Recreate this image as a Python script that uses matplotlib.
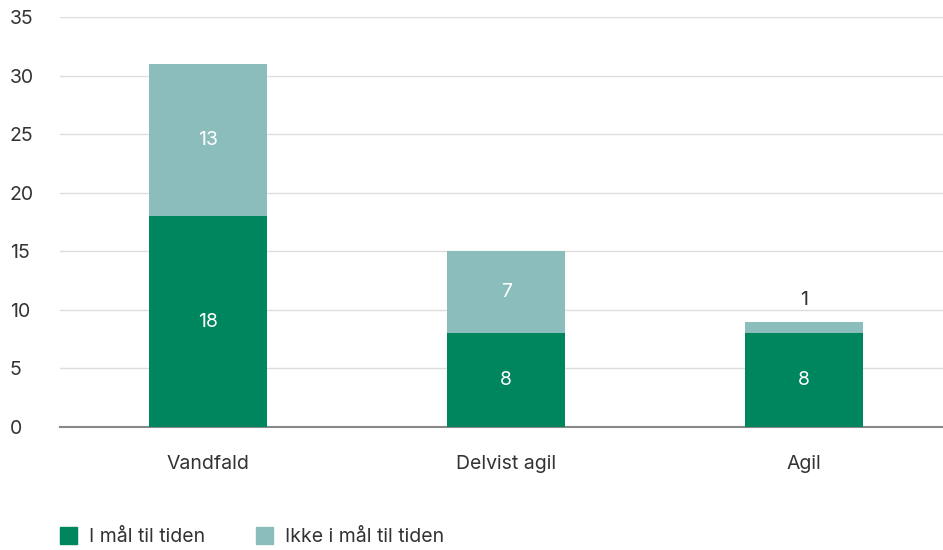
import matplotlib.pyplot as plt
from matplotlib.patches import Patch

categories = ["Vandfald", "Delvist agil", "Agil"]
on_time = [18, 8, 8]
not_on_time = [13, 7, 1]
series_names = ["I mål til tiden", "Ikke i mål til tiden"]

dark = "#00865f"
light = "#8bbdbd"
text_col = "#333333"
fs = 14

plt.rcParams['font.family'] = ['Inter', 'DejaVu Sans']

fig = plt.figure(figsize=(9.43, 5.5), dpi=100)
ax = fig.add_axes([0.0636, 0.2236, 0.9364, 0.7455])

x = range(len(categories))
w = 0.396
ax.bar(x, on_time, width=w, color=dark, zorder=3)
ax.bar(x, not_on_time, width=w, bottom=on_time, color=light, zorder=3)

for i in x:
    ax.text(i, on_time[i] / 2, str(on_time[i]), ha='center', va='center',
            color='white', fontsize=fs)
    if not_on_time[i] >= 3:
        ax.text(i, on_time[i] + not_on_time[i] / 2, str(not_on_time[i]),
                ha='center', va='center', color='white', fontsize=fs)
    else:
        ax.text(i, on_time[i] + not_on_time[i] + 1.1, str(not_on_time[i]),
                ha='center', va='bottom', color=text_col, fontsize=fs)

ax.set_xlim(-0.497, 2.466)
ax.set_ylim(0, 35)
ax.set_yticks(range(0, 36, 5))
ax.set_xticks(list(x))
ax.set_xticklabels(categories)
ax.yaxis.grid(True, color='#dddddd', linewidth=1, zorder=0)
ax.tick_params(axis='both', length=0, labelsize=fs, labelcolor=text_col)
ax.tick_params(axis='x', pad=20)
ax.tick_params(axis='y', pad=36)
for lbl in ax.get_yticklabels():
    lbl.set_horizontalalignment('left')
for s in ['top', 'right', 'left']:
    ax.spines[s].set_visible(False)
ax.spines['bottom'].set_color('#888888')
ax.spines['bottom'].set_linewidth(1.5)

handles = [Patch(color=dark), Patch(color=light)]
fig.legend(handles, series_names, loc='lower left', bbox_to_anchor=(0.045, -0.025),
           ncol=2, frameon=False, fontsize=fs, handlelength=0.9, handleheight=0.9,
           handletextpad=0.6, columnspacing=2.6, labelcolor=text_col)

fig.savefig("out.png", dpi=100)
